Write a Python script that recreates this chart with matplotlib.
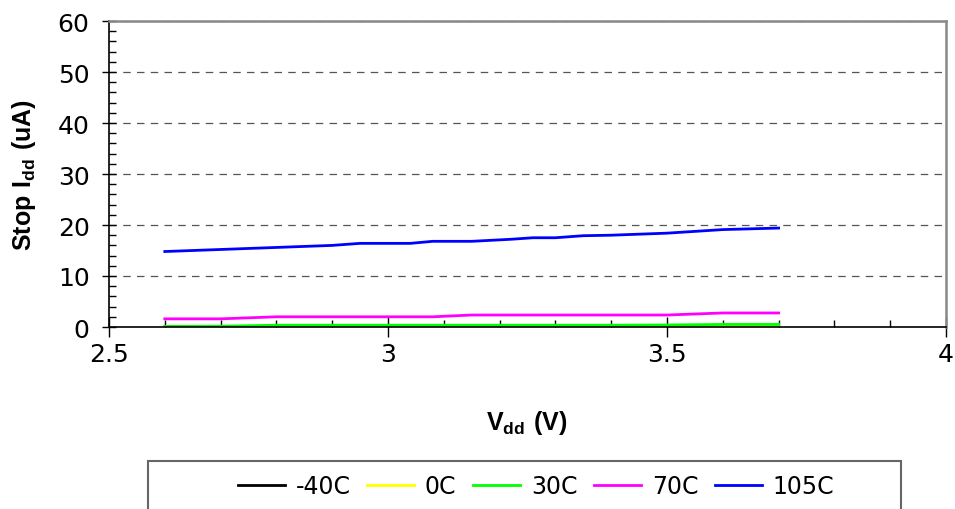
import matplotlib
matplotlib.use("Agg")
import matplotlib.pyplot as plt
from matplotlib.patches import Rectangle
from matplotlib.ticker import MultipleLocator

plt.rcParams['font.family'] = ['Liberation Sans', 'DejaVu Sans']
plt.rcParams['mathtext.fontset'] = 'custom'
plt.rcParams['mathtext.rm'] = 'Liberation Sans'
plt.rcParams['mathtext.bf'] = 'Liberation Sans:bold'
plt.rcParams['mathtext.default'] = 'bf'

vdd = [2.6, 2.7, 2.8, 2.9, 2.95, 3.04, 3.08, 3.15, 3.22, 3.26, 3.3, 3.35, 3.4, 3.5, 3.6, 3.7]
idd_m40 = [0.0, 0.0, 0.05, 0.05, 0.05, 0.05, 0.1, 0.15, 0.15, 0.15, 0.15, 0.15, 0.15, 0.15, 0.2, 0.2]
idd_0 = [0.0, 0.05, 0.15, 0.15, 0.15, 0.15, 0.15, 0.15, 0.15, 0.15, 0.15, 0.15, 0.15, 0.15, 0.2, 0.2]
idd_30 = [0.1, 0.15, 0.35, 0.35, 0.35, 0.35, 0.35, 0.35, 0.35, 0.35, 0.35, 0.35, 0.35, 0.4, 0.5, 0.5]
idd_70 = [1.6, 1.6, 2.0, 2.0, 2.0, 2.0, 2.0, 2.35, 2.35, 2.35, 2.35, 2.35, 2.35, 2.35, 2.75, 2.75]
idd_105 = [14.8, 15.2, 15.6, 16.0, 16.4, 16.4, 16.8, 16.8, 17.2, 17.5, 17.5, 17.9, 18.0, 18.4, 19.1, 19.4]

labels = ['-40C', '0C', '30C', '70C', '105C']
colors = ['#000000', '#FFFF00', '#00FF00', '#FF00FF', '#0000FF']
series = [idd_m40, idd_0, idd_30, idd_70, idd_105]

fig = plt.figure(figsize=(9.55, 5.1), dpi=100)
ax = fig.add_axes([109/955, 1 - 328/510, (946 - 109)/955, (328 - 22)/510])

for y, c, lab in zip(series, colors, labels):
    ax.plot(vdd, y, color=c, lw=2.0, label=lab, solid_joinstyle='round')

ax.set_xlim(2.5, 4)
ax.set_ylim(0, 60)
ax.xaxis.set_minor_locator(MultipleLocator(0.1))
ax.yaxis.set_major_locator(MultipleLocator(10))
ax.yaxis.set_minor_locator(MultipleLocator(2))
ax.set_xticks([2.5, 3, 3.5, 4])
ax.set_xticklabels(['2.5', '3', '3.5', '4'])

ax.grid(axis='y', which='major', linestyle=(0, (6, 5)), color='#555555', lw=0.9)
ax.set_axisbelow(True)

for s in ['top', 'right']:
    ax.spines[s].set_color('#888888')
    ax.spines[s].set_linewidth(1.8)
for s in ['left', 'bottom']:
    ax.spines[s].set_color('black')
    ax.spines[s].set_linewidth(1.2)

ax.tick_params(axis='y', which='major', direction='inout', length=10, width=1,
               labelsize=18, pad=9, labelfontfamily='DejaVu Sans')
ax.tick_params(axis='y', which='minor', direction='in', length=5, width=1)
ax.tick_params(axis='x', which='major', direction='inout', length=14, width=1,
               labelsize=18, pad=4, labelfontfamily='DejaVu Sans')
ax.tick_params(axis='x', which='minor', direction='in', length=5, width=1)
ax.tick_params(top=False, right=False, which='both')

fig.text(24/955, 1 - 175/510, r'$Stop\ I_{dd}\ (uA)$', fontsize=18, rotation=90,
         ha='center', va='center')
fig.text(527/955, 1 - 423/510, r'$V_{dd}\ (V)$', fontsize=18, ha='center', va='center')

# legend box
fig.patches.append(Rectangle((148/955, -0.1), (901 - 148)/955, 0.1 + (510 - 462)/510,
                             transform=fig.transFigure, fill=False, edgecolor='#666666',
                             lw=1.5, clip_on=False))
fig.legend(loc='center', bbox_to_anchor=(536/955, 1 - 487/510), ncol=5, frameon=False,
           prop={'family': 'DejaVu Sans', 'size': 17}, handlelength=2.0,
           handletextpad=0.45, columnspacing=0.7)

fig.savefig('out.png', dpi=100)
